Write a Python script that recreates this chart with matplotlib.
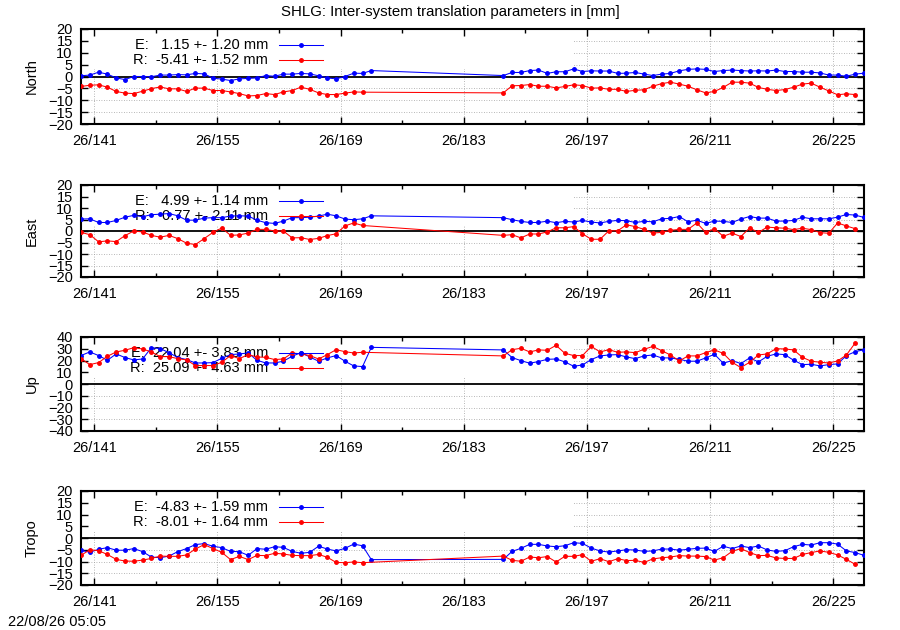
import numpy as np
import matplotlib
matplotlib.use("Agg")
import matplotlib.pyplot as plt
from matplotlib.patches import Rectangle

plt.rcParams["font.family"] = ["Liberation Sans", "DejaVu Sans"]
plt.rcParams["font.size"] = 10.5

# jours (doy + 0.5) : trou entre 172 et 187
days_e = list(np.arange(139.5, 173.0)) + list(np.arange(187.5, 229.0))
days_r = list(np.arange(139.5, 172.0)) + list(np.arange(187.5, 228.0))

north_e = [0.3, 0.6, 1.8, 1.0, -0.6, -1.3, 0.0, 0.0, -0.1, 0.6,
           0.6, 0.8, 0.7, 1.3, 1.1, -0.7, -1.1, -1.7, -1.0, -0.8,
           -0.6, 0.4, 0.1, 1.0, 1.0, 1.3, 1.1, 0.3, -0.6, -1.0,
           0.0, 1.4, 1.3, 2.5,
           0.4, 1.7, 1.7, 2.5, 2.7, 1.3, 2.0, 2.0, 3.2, 2.1,
           2.4, 2.3, 2.3, 1.3, 1.4, 1.7, 1.0, 0.4, 1.0, 1.3,
           2.4, 3.0, 3.2, 3.0, 2.1, 2.5, 2.7, 2.5, 2.3, 2.4,
           2.3, 2.7, 2.1, 2.1, 1.8, 1.8, 1.5, 0.6, 0.6, 0.1,
           1.0, 1.4]
north_r = [-4.2, -3.7, -3.5, -4.5, -6.3, -7.0, -7.2, -6.2, -5.1, -4.4,
           -5.2, -5.2, -6.3, -4.9, -4.9, -5.9, -5.9, -6.5, -7.2, -8.2,
           -8.0, -7.2, -7.6, -6.5, -5.9, -4.5, -5.4, -6.9, -7.6, -7.6,
           -7.0, -6.5, -6.6,
           -6.9, -3.9, -3.8, -3.4, -4.1, -4.1, -4.8, -4.2, -3.5, -3.8,
           -4.9, -4.8, -5.4, -5.4, -6.3, -5.8, -5.6, -4.1, -3.0, -2.4,
           -3.2, -4.1, -5.6, -6.9, -6.3, -4.6, -2.4, -2.4, -2.8, -4.6,
           -5.4, -5.9, -5.5, -4.5, -3.2, -2.8, -4.5, -6.1, -7.7, -7.3,
           -7.6]

east_e = [5.2, 5.3, 3.7, 3.7, 4.6, 6.0, 6.8, 6.2, 7.1, 7.3,
          7.6, 6.6, 4.7, 4.7, 5.6, 5.8, 5.8, 6.5, 6.6, 6.5,
          4.7, 3.6, 3.3, 4.3, 5.8, 5.8, 6.0, 6.5, 7.3, 6.6,
          5.2, 4.9, 5.3, 6.6,
          5.8, 4.9, 4.2, 3.7, 3.7, 4.3, 3.6, 4.2, 3.9, 4.6,
          3.9, 3.5, 4.2, 4.6, 4.5, 3.7, 4.2, 4.0, 5.3, 5.5,
          6.3, 4.0, 4.7, 3.3, 4.3, 4.2, 3.7, 5.2, 6.3, 5.6,
          5.6, 4.3, 4.3, 4.6, 6.0, 5.3, 5.3, 5.3, 6.0, 7.2,
          6.9, 5.9]
east_r = [-0.6, -1.6, -4.7, -4.3, -4.6, -2.0, 0.0, -0.4, -1.9, -2.7,
          -1.9, -3.3, -5.3, -5.9, -3.3, -0.6, 1.3, -1.9, -1.7, -0.9,
          0.7, 0.7, 0.0, 0.0, -3.0, -2.9, -3.7, -3.2, -2.0, -1.2,
          2.2, 3.5, 2.4,
          -1.9, -1.6, -3.0, -1.3, -1.3, -0.4, 1.4, 1.4, 1.9, -1.2,
          -3.6, -3.6, 0.1, 0.1, 2.7, 1.9, 0.7, -0.9, -0.6, 0.3,
          0.7, 0.7, 3.5, -0.6, 1.0, -2.3, -0.9, -2.4, 1.3, -0.6,
          1.7, 1.4, 1.2, 0.6, 1.2, 0.6, -0.7, -1.0, 3.5, 2.2,
          1.0]

up_e = [24.2, 27.3, 24.2, 20.2, 25.6, 22.5, 20.5, 21.3, 30.9, 30.1,
        26.7, 22.5, 20.8, 17.9, 17.9, 18.2, 21.9, 25.0, 25.6, 26.4,
        20.2, 17.9, 17.9, 19.4, 23.6, 26.7, 23.0, 19.4, 22.2, 24.2,
        19.4, 15.4, 14.8, 31.2,
        29.0, 22.5, 19.9, 17.7, 19.1, 21.0, 21.3, 18.8, 15.1, 16.2,
        20.8, 23.9, 24.7, 25.0, 23.0, 21.6, 23.9, 24.7, 22.2, 22.2,
        21.0, 19.4, 19.4, 22.2, 25.3, 17.7, 19.9, 17.4, 22.2, 18.8,
        23.6, 25.6, 25.0, 20.2, 16.5, 16.8, 15.4, 16.5, 17.1, 24.2,
        27.5, 29.2]
up_r = [21.6, 16.5, 18.2, 23.6, 27.3, 28.7, 30.9, 29.8, 27.3, 23.3,
        23.3, 21.6, 20.5, 15.7, 15.7, 15.7, 18.5, 24.2, 21.6, 25.0,
        23.0, 22.7, 20.8, 21.3, 26.4, 25.6, 24.2, 21.3, 25.0, 29.2,
        27.5, 26.4, 27.0,
        23.9, 29.2, 30.4, 27.3, 29.0, 28.7, 32.9, 26.1, 24.2, 24.2,
        32.0, 27.3, 29.2, 27.0, 27.3, 26.7, 29.5, 32.0, 28.4, 24.7,
        19.6, 23.9, 23.9, 26.7, 29.0, 26.1, 18.5, 14.0, 18.5, 24.7,
        25.6, 30.1, 29.8, 29.0, 22.7, 19.4, 18.5, 17.9, 19.6, 24.7,
        34.9]

tropo_e = [-5.2, -6.1, -4.8, -4.1, -5.2, -5.2, -4.5, -5.8, -8.1, -8.4,
           -7.7, -5.8, -4.5, -2.8, -2.4, -3.5, -4.1, -5.7, -5.8, -7.4,
           -4.5, -4.8, -3.7, -4.0, -5.7, -6.5, -6.1, -3.5, -4.7, -5.5,
           -4.4, -2.6, -3.3, -9.2,
           -9.1, -5.7, -4.4, -2.7, -2.7, -3.4, -3.7, -3.3, -2.0, -2.3,
           -4.3, -5.5, -6.0, -5.5, -5.0, -5.1, -5.7, -5.5, -4.7, -4.7,
           -5.2, -4.8, -4.4, -4.3, -5.7, -3.5, -4.5, -3.4, -4.1, -3.4,
           -5.1, -5.7, -5.4, -3.7, -2.7, -3.0, -2.0, -2.0, -2.6, -5.5,
           -6.2, -7.4]
tropo_r = [-7.4, -5.0, -5.4, -7.0, -9.1, -9.8, -9.9, -9.4, -8.7, -7.7,
           -7.8, -7.8, -7.2, -4.7, -2.8, -4.5, -6.1, -9.2, -7.8, -9.2,
           -7.4, -7.5, -6.5, -6.8, -7.4, -7.5, -7.5, -7.0, -8.2, -10.4,
           -10.5, -10.2, -10.5,
           -7.7, -9.5, -9.9, -8.1, -8.4, -7.9, -10.2, -7.8, -7.8, -7.1,
           -9.9, -8.8, -10.1, -8.8, -9.6, -9.5, -10.4, -8.9, -8.4, -8.1,
           -7.5, -7.7, -7.7, -7.9, -9.4, -8.4, -5.7, -4.5, -6.2, -7.5,
           -7.4, -8.5, -8.7, -8.7, -7.0, -6.2, -5.5, -6.1, -7.2, -9.1,
           -11.2]

panels = ["North", "East", "Up", "Tropo"]
series_e = [north_e, east_e, up_e, tropo_e]
series_r = [north_r, east_r, up_r, tropo_r]
key_e = ["E:   1.15 +- 1.20 mm", "E:   4.99 +- 1.14 mm",
         "E:  22.04 +- 3.83 mm", "E:  -4.83 +- 1.59 mm"]
key_r = ["R:  -5.41 +- 1.52 mm", "R:   0.77 +- 2.11 mm",
         "R:  25.09 +- 4.63 mm", "R:  -8.01 +- 1.64 mm"]
ylims = [20, 20, 40, 20]
ysteps = [5, 5, 10, 5]

major_days = list(range(141, 229, 14))
minor_days = list(range(148, 229, 14))

W, H = 900, 630
fig = plt.figure(figsize=(9, 6.3), dpi=100)
fig.text(0.5, 1 - 12 / H, "SHLG: Inter-system translation parameters in [mm]",
         ha="center", va="center", fontsize=10.8)
fig.text(8 / W, 1 - 622 / H, "22/08/26 05:05", ha="left", va="center")

# positions en pixels (haut, bas) de chaque panneau
boxes = [(29, 124), (185, 277), (337, 431), (491, 585)]
x0_px, x1_px = 81, 864
xmin, xmax = 139.5, 228.5

for i, name in enumerate(panels):
    top, bot = boxes[i]
    hpx = bot - top
    ax = fig.add_axes([x0_px / W, 1 - bot / H, (x1_px - x0_px) / W, hpx / H])
    lim, step = ylims[i], ysteps[i]
    ax.set_xlim(xmin, xmax)
    ax.set_ylim(-lim, lim)
    yt = list(range(-lim, lim + 1, step))
    ax.set_yticks(yt)
    ax.set_xticks(major_days)
    ax.set_xticks(minor_days, minor=True)
    ax.set_xticklabels([f"26/{d}" for d in major_days])
    ax.tick_params(direction="in", top=True, right=True, length=5, width=1,
                   labelsize=10.5)
    ax.tick_params(axis="x", pad=7)
    ax.tick_params(axis="y", pad=6)
    ax.tick_params(which="minor", direction="in", top=True, length=3, width=1)
    for s in ax.spines.values():
        s.set_linewidth(1.5)

    # grille
    for d in major_days:
        ax.axvline(d, color="#a0a0a0", lw=0.6, ls=(0, (1, 2)), zorder=0.5)
    for y in yt:
        if y not in (-lim, 0, lim):
            ax.axhline(y, color="#a0a0a0", lw=0.6, ls=(0, (1, 2)), zorder=0.5)
    # fond opaque de la légende
    ax.add_patch(Rectangle((0, 1 - 40 / hpx), (195.4 - xmin) / (xmax - xmin), 40 / hpx,
                           transform=ax.transAxes, facecolor="white",
                           edgecolor="none", zorder=1))
    ax.axhline(0, color="black", lw=1.3, zorder=2)

    ax.plot(days_e, series_e[i], color="blue", lw=0.75, marker="o", ms=2.5,
            zorder=3)
    ax.plot(days_r, series_r[i], color="red", lw=0.75, marker="o", ms=2.5,
            zorder=3)

    # légende
    tx = (268 - x0_px) / (x1_px - x0_px)
    la = (279 - x0_px) / (x1_px - x0_px)
    lb = (323 - x0_px) / (x1_px - x0_px)
    for lab, col, dy in [(key_e[i], "blue", 16), (key_r[i], "red", 31)]:
        yk = 1 - dy / hpx
        ax.text(tx, yk, lab, transform=ax.transAxes, ha="right", va="center",
                zorder=2.5)
        ax.plot([la, lb], [yk, yk], transform=ax.transAxes, color=col, lw=0.75,
                zorder=3)
        ax.plot([(la + lb) / 2], [yk], transform=ax.transAxes, color=col,
                marker="o", ms=2.5, zorder=3)

    fig.text(32 / W, 1 - (top + bot) / 2 / H, name, rotation=90,
             ha="center", va="center")

plt.savefig("out.png", dpi=100)
